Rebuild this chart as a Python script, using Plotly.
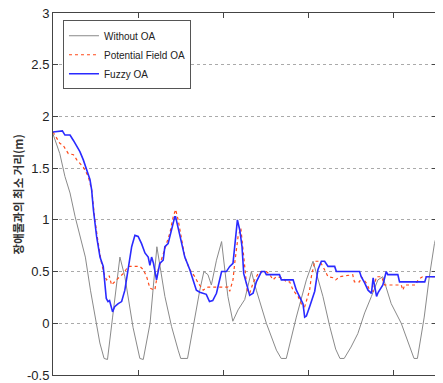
import plotly.graph_objects as go

# Without OA (gray)
x_without = [0, 0.4, 0.7, 1.0, 1.3, 1.6, 1.9, 2.2, 2.5, 2.75, 3.0, 3.2, 3.5, 3.93, 4.22, 4.7, 5.1, 5.3, 5.7, 6.1,
             6.57, 6.96, 7.35, 7.5, 7.9, 8.33, 8.62, 8.86, 9.1, 9.3, 9.6, 9.9, 10.27, 10.56, 10.87, 11.26, 11.65,
             11.94, 12.53, 13.12, 13.4, 13.7, 14.29, 14.88, 15.27, 15.85, 16.25, 16.6, 16.85, 17.1, 17.5, 17.9,
             18.3, 18.7, 19.08, 19.37, 19.86, 20.45, 20.94, 21.2, 21.4, 21.8, 22.1, 22.4, 22.6]
y_without = [1.83, 1.64, 1.42, 1.26, 1.03, 0.84, 0.64, 0.32, 0.06, -0.19, -0.34, -0.35, 0.06, 0.64, 0.45, -0.04,
             -0.34, -0.35, 0.0, 0.74, 0.26, -0.03, -0.26, -0.34, -0.34, 0.06, 0.32, 0.5, 0.47, 0.37, 0.61, 0.79,
             0.26, 0.02, 0.13, 0.23, 0.5, 0.32, 0.0, -0.26, -0.34, -0.34, 0.06, 0.42, 0.6, 0.26, -0.03, -0.25,
             -0.34, -0.34, -0.23, -0.1, 0.1, 0.26, 0.42, 0.45, 0.19, 0.0, -0.23, -0.34, -0.34, 0.06, 0.45, 0.77, 0.9]

# Potential Field OA (red dotted)
x_pf = [0, 0.4, 0.6, 0.9, 1.2, 1.4, 1.78, 2.07, 2.27, 2.46, 2.66, 2.85, 3.05, 3.15, 3.3, 3.44, 3.73, 4.12, 4.42,
        5.1, 5.3, 5.5, 5.69, 5.98, 6.18, 6.47, 6.67, 6.86, 7.06, 7.2, 7.35, 7.55, 7.74, 8.03, 8.33, 8.52, 8.82,
        9.1, 10.28, 10.38, 10.57, 10.67, 10.87, 11.03, 11.16, 11.26, 11.4, 11.55, 11.75, 12.04, 12.2, 12.53,
        12.73, 12.92, 13.1, 13.5, 13.7, 13.9, 14.1, 14.39, 14.58, 14.78, 14.88, 15.07, 15.17, 15.37, 15.66,
        15.85, 16.15, 16.44, 16.6, 16.83, 17.6, 17.7, 18.0, 18.1, 18.4, 18.6, 18.8, 18.99, 19.3, 19.47, 20.45,
        20.55, 20.65, 21.3, 21.43, 21.7, 22.4, 22.6]
y_pf = [1.85, 1.74, 1.72, 1.64, 1.63, 1.58, 1.51, 1.42, 1.29, 1.0, 0.77, 0.58, 0.45, 0.42, 0.46, 0.37, 0.42, 0.48,
        0.55, 0.55, 0.52, 0.45, 0.34, 0.32, 0.52, 0.68, 0.77, 0.87, 1.03, 1.1, 1.0, 0.81, 0.64, 0.52, 0.45, 0.39,
        0.32, 0.35, 0.35, 0.31, 0.42, 0.58, 0.84, 0.92, 0.71, 0.5, 0.32, 0.29, 0.39, 0.48, 0.5, 0.5, 0.47, 0.42,
        0.45, 0.44, 0.4, 0.4, 0.32, 0.26, 0.19, 0.16, 0.21, 0.32, 0.45, 0.6, 0.6, 0.55, 0.45, 0.44, 0.42, 0.45,
        0.47, 0.4, 0.4, 0.45, 0.39, 0.32, 0.31, 0.45, 0.45, 0.37, 0.37, 0.32, 0.37, 0.37, 0.42, 0.45, 0.45, 0.42]

# Fuzzy OA (blue)
x_fz = [0, 0.4, 0.55, 0.7, 1.0, 1.19, 1.39, 1.58, 1.78, 1.97, 2.17, 2.27, 2.37, 2.56, 2.76, 2.95, 3.05, 3.13,
        3.23, 3.32, 3.5, 3.62, 3.83, 4.03, 4.22, 4.42, 4.62, 4.81, 5.0, 5.2, 5.4, 5.59, 5.69, 5.79, 5.9, 6.08,
        6.27, 6.47, 6.57, 6.76, 6.96, 7.15, 7.2, 7.35, 7.55, 7.74, 8.03, 8.23, 8.42, 8.62, 8.82, 9.0, 9.19,
        9.38, 9.6, 9.9, 10.18, 10.38, 10.57, 10.67, 10.83, 10.97, 11.1, 11.2, 11.36, 11.55, 11.75, 11.94,
        12.24, 12.43, 12.53, 13.3, 13.41, 14.1, 14.29, 14.49, 14.68, 14.78, 14.88, 15.07, 15.37, 15.56, 15.76,
        15.95, 16.15, 16.54, 16.64, 18.0, 18.1, 18.3, 18.5, 18.7, 18.8, 18.9, 19.0, 19.1, 19.37, 19.57, 19.66,
        20.25, 20.35, 21.83, 21.92, 22.45, 22.6]
y_fz = [1.85, 1.86, 1.86, 1.82, 1.82, 1.77, 1.72, 1.66, 1.58, 1.48, 1.39, 1.29, 1.1, 0.84, 0.64, 0.55, 0.39, 0.24,
        0.21, 0.22, 0.11, 0.16, 0.19, 0.21, 0.32, 0.55, 0.74, 0.85, 0.84, 0.77, 0.68, 0.64, 0.56, 0.64, 0.58,
        0.42, 0.58, 0.61, 0.74, 0.77, 0.9, 1.03, 1.03, 0.93, 0.77, 0.64, 0.52, 0.42, 0.32, 0.3, 0.29, 0.28,
        0.21, 0.22, 0.29, 0.5, 0.5, 0.55, 0.58, 0.77, 1.0, 0.9, 0.74, 0.48, 0.37, 0.27, 0.29, 0.4, 0.5, 0.5,
        0.47, 0.47, 0.42, 0.42, 0.32, 0.26, 0.19, 0.06, 0.07, 0.16, 0.31, 0.52, 0.6, 0.6, 0.55, 0.55, 0.5, 0.5,
        0.45, 0.39, 0.32, 0.29, 0.44, 0.35, 0.26, 0.3, 0.37, 0.5, 0.47, 0.47, 0.4, 0.4, 0.45, 0.45, 0.4]

y_ticks = [3, 2.5, 2, 1.5, 1, 0.5, 0, -0.5]
y_tick_text = ["3", "2.5", "2", "1.5", "1", "0.5", "0", "-0.5"]
x_ticks = [0, 5, 10, 15, 20]
y_title = "장애물과의 최소 거리(m)"

fig = go.Figure()
fig.add_trace(go.Scatter(x=x_without, y=y_without, mode="lines", name="Without OA",
                         line=dict(color="#8a8a8a", width=1)))
fig.add_trace(go.Scatter(x=x_pf, y=y_pf, mode="lines", name="Potential Field OA",
                         line=dict(color="#ff4a1a", width=1.2, dash="dot")))
fig.add_trace(go.Scatter(x=x_fz, y=y_fz, mode="lines", name="Fuzzy OA",
                         line=dict(color="#2a2aff", width=1.6)))

axis_common = dict(showline=True, linecolor="#444", linewidth=1, mirror="ticks",
                   ticks="inside", ticklen=5, tickcolor="#444", zeroline=False,
                   tickfont=dict(family="Liberation Sans, Arial", size=13, color="#222"),
                   ticklabeloverflow="allow", automargin=False)

# The page body has an 8px default margin, so the figure is sized to fit the 443x383 window.
fig.update_layout(
    width=435, height=375,
    margin=dict(l=45, r=6, t=5, b=8),
    paper_bgcolor="white", plot_bgcolor="white",
    showlegend=True,
    legend=dict(x=0.026, y=0.98, xanchor="left", yanchor="top",
                bgcolor="white", bordercolor="#555", borderwidth=1,
                font=dict(family="Liberation Sans, Arial", size=10, color="#222"),
                itemwidth=30, tracegroupgap=0),
    xaxis=dict(range=[0, 22.55], tickvals=x_ticks, showgrid=False, **axis_common),
    yaxis=dict(range=[-0.5, 3], tickvals=y_ticks, ticktext=y_tick_text,
               showgrid=True, gridcolor="#aaaaaa", griddash="dot", gridwidth=1, **axis_common),
    annotations=[dict(text="<b>" + y_title + "</b>", xref="paper", yref="paper",
                      x=-0.09, y=0.5, xanchor="center", yanchor="middle", textangle=-90,
                      showarrow=False,
                      font=dict(family="Noto Sans CJK KR, sans-serif", size=11.5, color="#333"))],
)

fig.write_html("out.html")
